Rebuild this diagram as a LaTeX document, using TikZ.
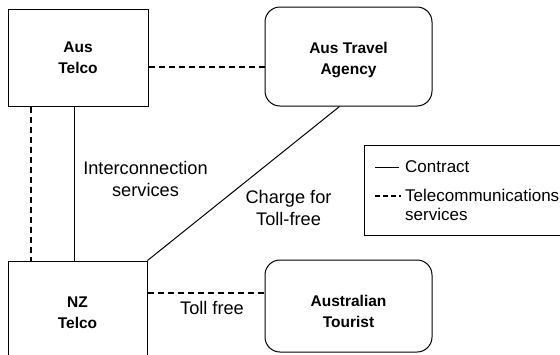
\documentclass[tikz,border=0pt]{standalone}
\usepackage{fontspec}
\setmainfont{Liberation Sans}
\begin{document}
\begin{tikzpicture}[x=1pt,y=-1pt,
  box/.style={draw,line width=1pt,inner sep=0pt},
  rbox/.style={box,rounded corners=15pt},
  boxtext/.style={font=\fontsize{15.5}{21}\selectfont\bfseries,align=center,inner sep=0pt},
  lbl/.style={font=\fontsize{18.2}{22}\selectfont,align=center,inner sep=0pt},
  leg/.style={font=\fontsize{17}{18.5}\selectfont,align=left,inner sep=0pt,anchor=west},
  tele/.style={line width=2pt,dash pattern=on 6pt off 4pt},
  contract/.style={line width=1pt}]
\useasboundingbox (0,0) rectangle (560,354);
% boxes
\node[box,minimum width=140pt,minimum height=97pt] (AT) at (78,57.5) {};
\node[rbox,minimum width=167pt,minimum height=99pt] (AG) at (348.5,56.5) {};
\node[box,minimum width=139pt,minimum height=110pt] (NZ) at (77.5,316) {};
\node[rbox,minimum width=167pt,minimum height=92pt] (TO) at (348.5,306) {};
% box texts
\node[boxtext] (ATt) at (78,58) {Aus\\Telco};
\node[boxtext] (AGt) at (348.5,60) {Aus Travel\\Agency};
\node[boxtext] (NZt) at (77.5,312.5) {NZ\\Telco};
\node[boxtext] (TOt) at (348.5,311.5) {Australian\\Tourist};
% connectors
\draw[tele] ([yshift=-9.5pt]AT.east) -- ([yshift=-9.5pt]AT.east -| AG.west);
\draw[tele] ([xshift=23pt]AT.south west) -- ([xshift=23pt]AT.south west |- NZ.north);
\draw[contract] ([xshift=67pt]AT.south west) -- ([xshift=67pt]AT.south west |- NZ.north);
\draw[contract] (NZ.north east) -- ([xshift=75pt]AG.south west);
\draw[tele] ([yshift=-32pt]NZ.north east) -- ([yshift=-32pt]NZ.north east -| TO.west);
% labels
\node[lbl] (L1) at (145.5,179) {Interconnection\\services};
\node[lbl] (L2) at (288.5,208) {Charge for\\Toll-free};
\node[lbl] (L3) at (212,308) {Toll free};
% legend (its right side lies beyond the picture)
\node[inner sep=0pt,minimum width=236pt,minimum height=90pt,anchor=north west] (LG) at (364,145) {};
\draw[line width=1pt] (LG.north east) -- (LG.north west) -- (LG.south west) -- (LG.south east);
\coordinate (c1) at (375,167);
\coordinate (c2) at (399,167);
\draw[contract] (c1) -- (c2);
\node[leg] (lc) at (405,167) {Contract};
\coordinate (d1) at (375,196);
\coordinate (d2) at (401,196);
\draw[line width=2pt,dash pattern=on 5pt off 3pt] (d1) -- (d2);
\node[leg,anchor=north west] (ld) at (405,189) {Telecommunications\\services};
\end{tikzpicture}
\end{document}
